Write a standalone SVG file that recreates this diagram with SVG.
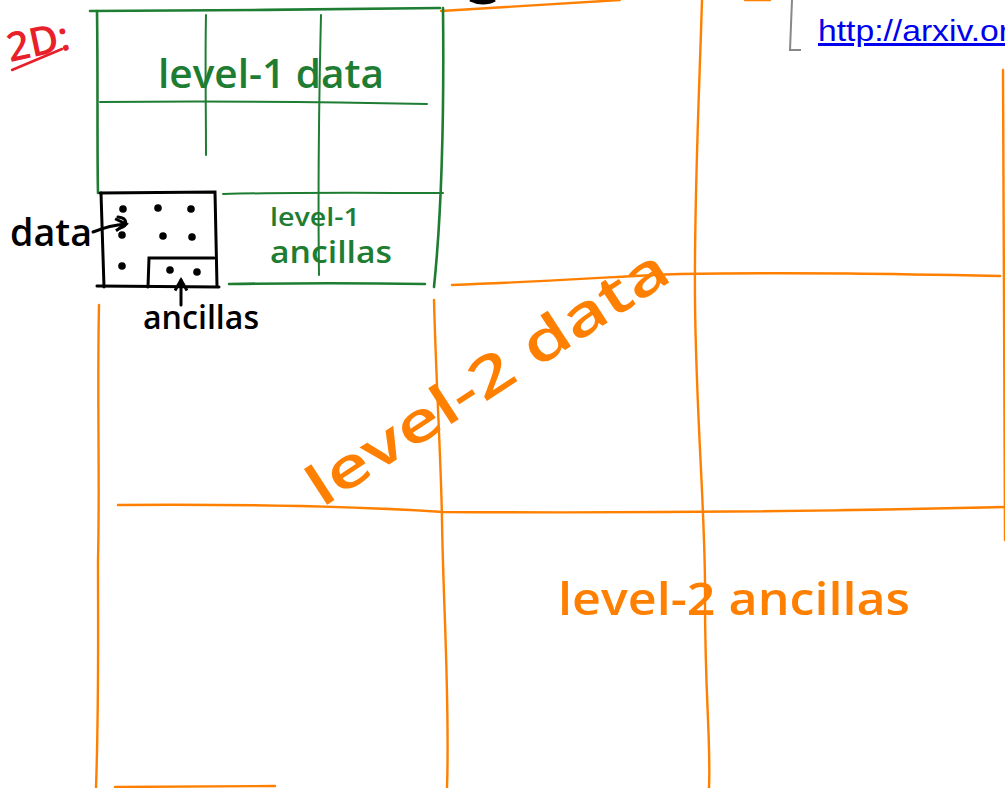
<svg xmlns="http://www.w3.org/2000/svg" width="1005" height="788" viewBox="0 0 1005 788">
  <style>
    .grn { fill: none; stroke: #1e7d32; stroke-width: 2; stroke-linecap: round; }
    .grn2 { fill: none; stroke: #1e7d32; stroke-width: 2.6; stroke-linecap: round; }
    .org { fill: none; stroke: #ff8000; stroke-width: 2.4; stroke-linecap: round; }
    .blk { fill: none; stroke: #000; stroke-width: 3; stroke-linecap: round; }
    .hand { font-family: "Open Sans", "Noto Sans", sans-serif; font-weight: 600; }
    .gtxt { fill: #1e7d32; }
    .otxt { fill: #ff8000; }
    .btxt { fill: #000; }
  </style>
  <defs>
    <marker id="arrow" viewBox="0 0 10 10" refX="8" refY="5" markerWidth="5" markerHeight="5" orient="auto">
      <path d="M1,1 L8,5 L1,9" fill="none" stroke="#000" stroke-width="2"/>
    </marker>
  </defs>
  <rect width="1005" height="788" fill="#fff"/>

  <!-- level-2 grid (orange) -->
  <g id="level2-grid">
    <path class="org" d="M441,11 L620,0"/>
    <path class="org" d="M745,0 L770,0"/>
    <path class="org" d="M702,0 C699,100 694,200 695,300 C696,420 706,520 705,600 C705,700 711,740 709,788"/>
    <path class="org" d="M1003,70 L1005,540"/>
    <path class="org" d="M99,305 C97,400 100,480 98,560 C98,640 99,700 96,788"/>
    <path class="org" d="M434,300 C436,380 441,460 442,520 C443,600 450,700 447,788"/>
    <path class="org" d="M452,285 C560,281 620,276 680,274 C800,272 900,274 1000,276"/>
    <path class="org" d="M118,505 C250,504 350,506 443,512 C600,513 760,513 1005,507"/>
    <path class="org" d="M115,787 L275,786"/>
  </g>

  <!-- level-1 grid (green) -->
  <g id="level1-grid">
    <path class="grn2" d="M90,11 C200,10 330,10 440,8"/>
    <path class="grn2" d="M97,11 C98,80 97,150 98,193"/>
    <path class="grn2" d="M443,8 C444,100 443,200 434,287"/>
    <path class="grn" d="M100,102 C200,101 330,102 427,104"/>
    <path class="grn" d="M206,15 C205,60 206,110 206,155"/>
    <path class="grn" d="M321,15 C319,100 318,200 319,275"/>
    <path class="grn" d="M223,194 C300,192 380,193 443,193"/>
    <path class="grn2" d="M229,284 C300,283 360,283 425,284"/>
  </g>

  <!-- level-1 data block (black) -->
  <g id="level1-block">
    <path class="blk" d="M100,193 L215,192 L217,286"/>
    <path class="blk" d="M101,193 L104,287"/>
    <path class="blk" d="M97,286 L219,287"/>
    <path class="blk" d="M148,287 L149,258 L214,258"/>
    <g fill="#000">
      <circle cx="123" cy="209" r="3.8"/>
      <circle cx="158" cy="208" r="3.8"/>
      <circle cx="191" cy="209" r="3.8"/>
      <circle cx="122" cy="235" r="3.8"/>
      <circle cx="163" cy="236" r="3.8"/>
      <circle cx="192" cy="237" r="3.8"/>
      <circle cx="122" cy="266" r="3.8"/>
      <circle cx="170" cy="270" r="3.8"/>
      <circle cx="197" cy="272" r="3.8"/>
    </g>
  </g>

  <!-- connectors -->
  <g id="connectors">
    <path class="blk" d="M93,232 C103,228 112,225 126,224" marker-end="url(#arrow)"/>
    <path class="blk" stroke-width="2.4" d="M118,217 C128,218 128,226 120,228"/>
    <path class="blk" d="M181,305 L181,280" marker-end="url(#arrow)"/>
    <path d="M792,0 L790,50 L801,50" fill="none" stroke="#888" stroke-width="2"/>
    <path d="M470,0 C478,4 488,4 495,0" fill="#000" stroke="#000" stroke-width="3"/>
  </g>

  <!-- labels -->
  <g id="label-2d">
    <text class="hand" x="10" y="62" font-size="40" font-weight="bold" fill="#e8202a" transform="rotate(-12 10 62)">2D:</text>
    <path d="M12,70 L62,49" fill="none" stroke="#e8202a" stroke-width="2.5" stroke-linecap="round"/>
  </g>
  <g id="label-level1-data">
    <text class="hand gtxt" x="158" y="88" font-size="40" textLength="226" lengthAdjust="spacingAndGlyphs">level-1 data</text>
  </g>
  <g id="label-level1-ancillas">
    <text class="hand gtxt" x="270" y="226" font-size="26" textLength="90" lengthAdjust="spacingAndGlyphs">level-1</text>
    <text class="hand gtxt" x="270" y="263" font-size="30" textLength="122" lengthAdjust="spacingAndGlyphs">ancillas</text>
  </g>
  <g id="label-data">
    <text class="hand btxt" x="10" y="246" font-size="38" font-weight="bold" textLength="82" lengthAdjust="spacingAndGlyphs">data</text>
  </g>
  <g id="label-ancillas">
    <text class="hand btxt" x="143" y="329" font-size="32" textLength="116" lengthAdjust="spacingAndGlyphs">ancillas</text>
  </g>
  <g id="label-level2-data">
    <text class="hand otxt" x="0" y="0" font-size="56" textLength="420" lengthAdjust="spacingAndGlyphs" transform="translate(322,508) rotate(-33)">level-2 data</text>
  </g>
  <g id="label-level2-ancillas">
    <text class="hand otxt" x="558" y="615" font-size="46" textLength="352" lengthAdjust="spacingAndGlyphs">level-2 ancillas</text>
  </g>
  <g id="link">
    <text x="818" y="41" font-family="'Liberation Sans', Arial, sans-serif" font-size="30" fill="#0000ee" text-decoration="underline" textLength="192" lengthAdjust="spacingAndGlyphs">http://arxiv.or</text>
  </g>
</svg>
